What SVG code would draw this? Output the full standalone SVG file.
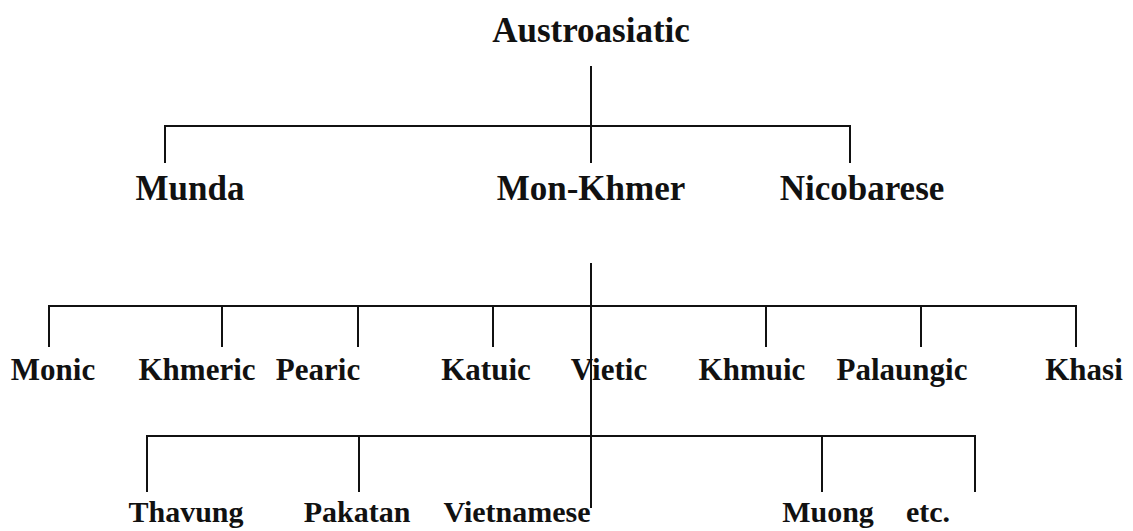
<svg xmlns="http://www.w3.org/2000/svg" width="1133" height="531" viewBox="0 0 1133 531">
<style>
text{font-family:"Liberation Serif","Times New Roman",serif;font-weight:bold;fill:#111;text-anchor:middle}
.l0{font-size:35px}.l1{font-size:35px}.l2{font-size:31px}.l3{font-size:30px}
.c line{stroke:#111;stroke-width:2;fill:none}
</style>
<rect width="1133" height="531" fill="#fff"/>
<g class="c" id="connectors">
<line x1="591" y1="66" x2="591" y2="163"/>
<line x1="164" y1="126" x2="851" y2="126"/>
<line x1="165" y1="126" x2="165" y2="163"/>
<line x1="850" y1="126" x2="850" y2="163"/>
<line x1="591" y1="263" x2="591" y2="508"/>
<line x1="48" y1="306" x2="1077" y2="306"/>
<line x1="49" y1="306" x2="49" y2="347"/>
<line x1="222" y1="306" x2="222" y2="347"/>
<line x1="358" y1="306" x2="358" y2="347"/>
<line x1="493" y1="306" x2="493" y2="347"/>
<line x1="766" y1="306" x2="766" y2="347"/>
<line x1="921" y1="306" x2="921" y2="347"/>
<line x1="1076" y1="306" x2="1076" y2="347"/>
<line x1="146" y1="436" x2="976" y2="436"/>
<line x1="147" y1="436" x2="147" y2="492"/>
<line x1="359" y1="436" x2="359" y2="492"/>
<line x1="822" y1="436" x2="822" y2="492"/>
<line x1="975" y1="436" x2="975" y2="492"/>
</g>
<g id="austroasiatic"><text class="l0" x="591" y="42">Austroasiatic</text></g>
<g id="munda"><text class="l1" x="190" y="200">Munda</text></g>
<g id="mon-khmer"><text class="l1" x="591" y="200">Mon-Khmer</text></g>
<g id="nicobarese"><text class="l1" x="862" y="200">Nicobarese</text></g>
<g id="monic"><text class="l2" x="53" y="380">Monic</text></g>
<g id="khmeric"><text class="l2" x="197" y="380">Khmeric</text></g>
<g id="pearic"><text class="l2" x="318" y="380">Pearic</text></g>
<g id="katuic"><text class="l2" x="486" y="380">Katuic</text></g>
<g id="vietic"><text class="l2" x="609" y="380">Vietic</text></g>
<g id="khmuic"><text class="l2" x="752" y="380">Khmuic</text></g>
<g id="palaungic"><text class="l2" x="902" y="380">Palaungic</text></g>
<g id="khasi"><text class="l2" x="1084" y="380">Khasi</text></g>
<g id="thavung"><text class="l3" x="186" y="522">Thavung</text></g>
<g id="pakatan"><text class="l3" x="357" y="522">Pakatan</text></g>
<g id="vietnamese"><text class="l3" x="517" y="522">Vietnamese</text></g>
<g id="muong"><text class="l3" x="828" y="522">Muong</text></g>
<g id="etc"><text class="l3" x="928" y="522">etc.</text></g>
</svg>
